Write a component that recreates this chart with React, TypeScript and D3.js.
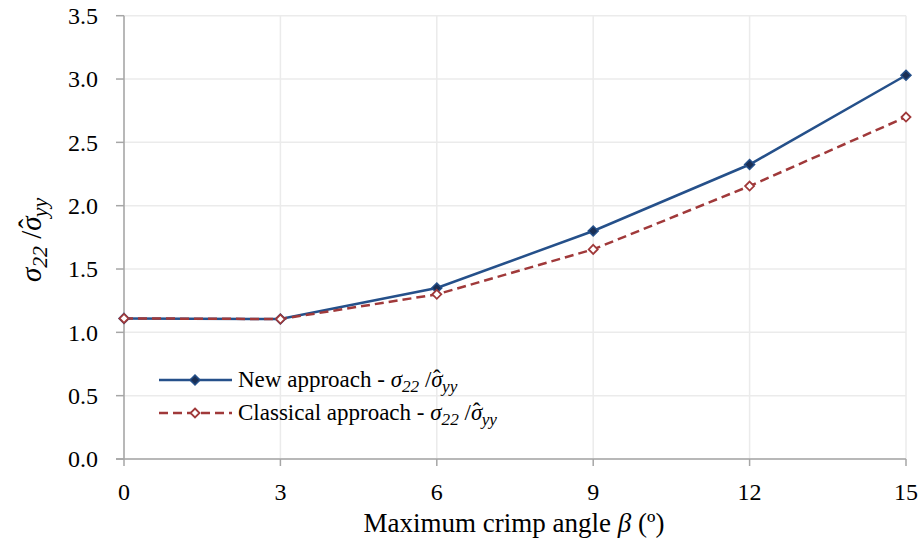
import React from "react";
import * as d3 from "d3";

const angles = [0, 3, 6, 9, 12, 15];
const newApproach = [1.11, 1.105, 1.35, 1.8, 2.325, 3.03];
const classicalApproach = [1.11, 1.105, 1.3, 1.655, 2.155, 2.7];
const xTicks = [0, 3, 6, 9, 12, 15];
const yTicks = [0, 0.5, 1, 1.5, 2, 2.5, 3, 3.5];

const W = 922;
const H = 542;
const BLUE = "#25508a";
const RED = "#a0393a";
const FONT = "'Liberation Serif', serif";

function SigmaLabel({ size }: { size: number }) {
  const sub = size * 0.75;
  return (
    <>
      <tspan fontStyle="italic">σ</tspan>
      <tspan fontStyle="italic" fontSize={sub} dy={size * 0.2}>22</tspan>
      <tspan dy={-size * 0.2}> /</tspan>
      <tspan fontStyle="italic">σ</tspan>
      <tspan dx={-size * 0.42} dy={-size * 0.08}>ˆ</tspan>
      <tspan fontStyle="italic" fontSize={sub} dx={size * 0.06} dy={size * 0.28}>yy</tspan>
    </>
  );
}

export default function App() {
  const x = d3.scaleLinear().domain([0, 15]).range([124, 906]);
  const y = d3.scaleLinear().domain([0, 3.5]).range([459, 15.7]);
  const line = d3
    .line<number>()
    .x((_, i) => x(angles[i]))
    .y((d) => y(d));

  const diamond = (cx: number, cy: number, r: number) =>
    `M${cx},${cy - r}L${cx + r},${cy}L${cx},${cy + r}L${cx - r},${cy}Z`;

  const ts = { fontFamily: FONT };

  return (
    <svg width={W} height={H} style={{ display: "block", position: "absolute", left: 0, top: 0, fontFamily: FONT }}>
      <rect width={W} height={H} fill="#fff" />
      {yTicks.map((t) => (
        <line key={"gy" + t} x1={x(0)} x2={x(15)} y1={y(t)} y2={y(t)} stroke="#ebebeb" strokeWidth={1.5} />
      ))}
      {xTicks.map((t) => (
        <line key={"gx" + t} x1={x(t)} x2={x(t)} y1={y(0)} y2={y(3.5)} stroke="#ebebeb" strokeWidth={1.5} />
      ))}
      <line x1={x(0)} x2={x(0)} y1={y(0)} y2={y(3.5)} stroke="#a6a6a6" strokeWidth={1.5} />
      <line x1={x(0) - 8} x2={x(15)} y1={y(0)} y2={y(0)} stroke="#a6a6a6" strokeWidth={1.5} />
      {yTicks.map((t) => (
        <g key={"ty" + t}>
          <line x1={x(0) - 8} x2={x(0)} y1={y(t)} y2={y(t)} stroke="#a6a6a6" strokeWidth={1.5} />
          <text x={98} y={y(t)} dy="0.34em" textAnchor="end" fontSize={24} style={ts}>
            {t.toFixed(1)}
          </text>
        </g>
      ))}
      {xTicks.map((t) => (
        <g key={"tx" + t}>
          <line x1={x(t)} x2={x(t)} y1={y(0)} y2={y(0) + 7} stroke="#a6a6a6" strokeWidth={1.5} />
          <text x={x(t)} y={500} textAnchor="middle" fontSize={24} style={ts}>
            {t}
          </text>
        </g>
      ))}
      <text x={514} y={532} textAnchor="middle" fontSize={27} style={ts}>
        Maximum crimp angle <tspan fontStyle="italic">β</tspan> (º)
      </text>
      <text transform={`translate(41,240) rotate(-90)`} textAnchor="middle" fontSize={29} style={ts}>
        <SigmaLabel size={29} />
      </text>
      <path d={line(newApproach) || ""} fill="none" stroke={BLUE} strokeWidth={2.5} />
      <path d={line(classicalApproach) || ""} fill="none" stroke={RED} strokeWidth={2.5} strokeDasharray="9,5" />
      {newApproach.map((v, i) => (
        <path key={"n" + i} d={diamond(x(angles[i]), y(v), 5)} fill="#1a2f55" stroke={BLUE} strokeWidth={1.5} />
      ))}
      {classicalApproach.map((v, i) => (
        <path key={"c" + i} d={diamond(x(angles[i]), y(v), 4.5)} fill="#fff" stroke={RED} strokeWidth={1.8} />
      ))}
      <line x1={159} x2={232} y1={380} y2={380} stroke={BLUE} strokeWidth={2.5} />
      <path d={diamond(195, 380, 5)} fill="#1a2f55" stroke={BLUE} strokeWidth={1.5} />
      <text x={238} y={380} dy="0.32em" fontSize={23} style={ts}>
        New approach - <SigmaLabel size={23} />
      </text>
      <line x1={159} x2={232} y1={413} y2={413} stroke={RED} strokeWidth={2.5} strokeDasharray="9,5" />
      <path d={diamond(195, 413, 4.5)} fill="#fff" stroke={RED} strokeWidth={1.8} />
      <text x={238} y={413} dy="0.32em" fontSize={23} style={ts}>
        Classical approach - <SigmaLabel size={23} />
      </text>
    </svg>
  );
}
